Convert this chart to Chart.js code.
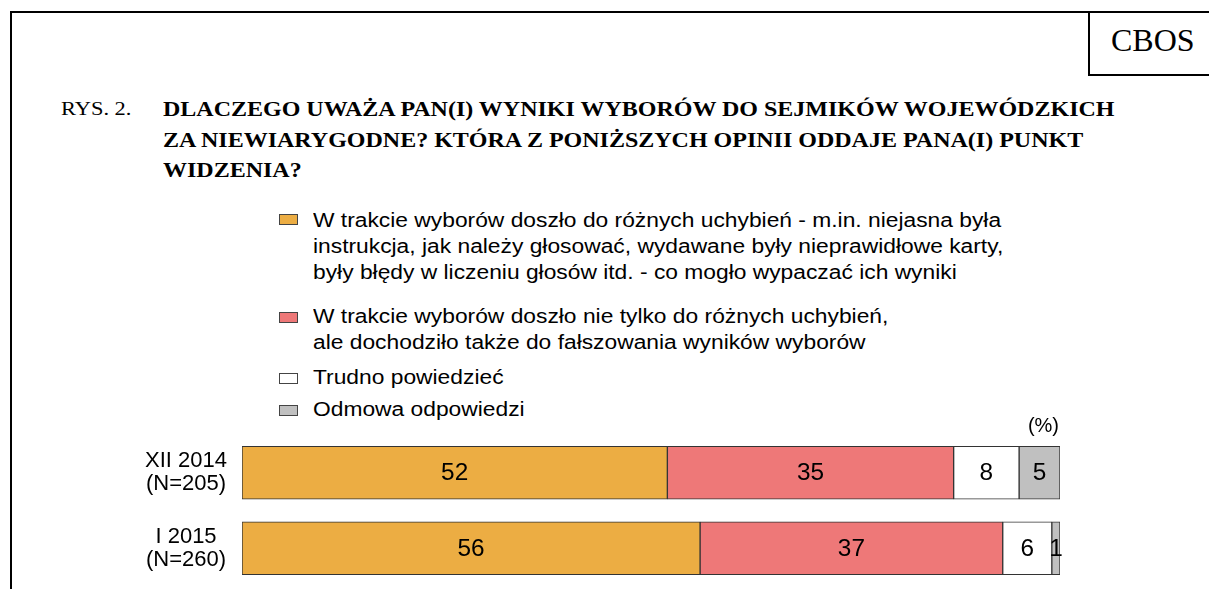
<!DOCTYPE html>
<html>
<head>
<meta charset="utf-8">
<script src="https://cdn.jsdelivr.net/npm/chart.js@4.4.1/dist/chart.umd.min.js"></script>
<style>
  body { margin: 0; background: #fff; width: 1209px; height: 589px; overflow: hidden; position: relative; }
  .frame { position: absolute; left: 10px; top: 11px; width: 1300px; height: 700px; border-left: 2px solid #000; border-top: 2px solid #000; }
  .cbos-box { position: absolute; left: 1088px; top: 11px; width: 200px; height: 63px; border-left: 2px solid #000; border-bottom: 2px solid #000; }
  .txt { position: absolute; white-space: nowrap; color: #000; transform-origin: 0 0; }
  .serif { font-family: "Liberation Serif", "Times New Roman", serif; }
  .sans { font-family: "Liberation Sans", Arial, sans-serif; }
  .sq { position: absolute; width: 17px; height: 9px; border: 1px solid #444; }
  #wrap { position: absolute; left: 0; top: 0; width: 1209px; height: 589px; }
</style>
</head>
<body>
<div class="frame"></div>
<div class="cbos-box"></div>
<div id="texts"></div>
<div id="wrap"><canvas id="chart" width="1209" height="589"></canvas></div>
<script>
// dane
const categories = [['XII 2014', '(N=205)'], ['I 2015', '(N=260)']];
const seriesNames = [
    ['W trakcie wyborów doszło do różnych uchybień - m.in. niejasna była',
     'instrukcja, jak należy głosować, wydawane były nieprawidłowe karty,',
     'były błędy w liczeniu głosów itd. - co mogło wypaczać ich wyniki'],
    ['W trakcie wyborów doszło nie tylko do różnych uchybień,',
     'ale dochodziło także do fałszowania wyników wyborów'],
    ['Trudno powiedzieć'],
    ['Odmowa odpowiedzi']
];
const valuesOrange = [52, 56];
const valuesRed = [35, 37];
const valuesWhite = [8, 6];
const valuesGray = [5, 1];
const colors = ['#ECAD43', '#EE7878', '#FFFFFF', '#C0C0C0'];

const titleLabel = 'RYS. 2.';
const titleLines = [
    'DLACZEGO UWAŻA PAN(I) WYNIKI WYBORÓW DO SEJMIKÓW WOJEWÓDZKICH',
    'ZA NIEWIARYGODNE? KTÓRA Z PONIŻSZYCH OPINII ODDAJE PANA(I) PUNKT',
    'WIDZENIA?'
];

// tekst HTML ustawiany po linii bazowej
const texts = document.getElementById('texts');
function putText(str, x, baseline, size, cls, extra) {
    const lh = size * 1.3;
    const k = cls === 'serif' ? 0.3375 : 0.3465;
    const d = document.createElement('div');
    d.className = 'txt ' + cls;
    d.style.left = x + 'px';
    d.style.top = (baseline - lh / 2 - k * size) + 'px';
    d.style.fontSize = size + 'px';
    d.style.lineHeight = lh + 'px';
    if (extra) Object.assign(d.style, extra);
    d.textContent = str;
    texts.appendChild(d);
}

putText('CBOS', 1111, 52, 32, 'serif');
putText(titleLabel, 61, 116, 19, 'serif', { transform: 'scaleX(1.18)' });
titleLines.forEach((l, i) => putText(l, 163, 116 + i * 30.5, 20, 'serif',
    { fontWeight: 'bold', transform: 'scaleX(1.2)' }));

const legendBase = [226.5, 323, 384, 416];
const legendSq = [219, 317, 378, 410];
seriesNames.forEach((lines, s) => {
    const sq = document.createElement('div');
    sq.className = 'sq';
    sq.style.left = '279px';
    sq.style.top = (legendSq[s] - 5.5) + 'px';
    sq.style.background = colors[s];
    texts.appendChild(sq);
    lines.forEach((l, i) => putText(l, 313, legendBase[s] + i * 26, 20, 'sans',
        { transform: 'scaleX(1.14)' }));
});

// etykiety wartości w środku segmentów
const valueLabels = {
    id: 'valueLabels',
    afterDatasetsDraw(chart) {
        const c = chart.ctx;
        c.save();
        c.font = '23px "Liberation Sans", Arial, sans-serif';
        c.fillStyle = '#000';
        c.textAlign = 'center';
        c.textBaseline = 'middle';
        chart.data.datasets.forEach((ds, i) => {
            chart.getDatasetMeta(i).data.forEach((bar, j) => {
                const p = bar.getProps(['x', 'y', 'base'], true);
                c.save();
                c.translate((p.x + p.base) / 2, p.y + 1);
                c.scale(1.06, 1);
                c.fillText(ds.data[j], 0, 0);
                c.restore();
            });
        });
        // (%)
        c.font = '20px "Liberation Sans", Arial, sans-serif';
        c.textAlign = 'right';
        c.textBaseline = 'alphabetic';
        c.fillText('(%)', chart.chartArea.right - 1, chart.chartArea.top - 3);
        c.restore();
    }
};

const allValues = [valuesOrange, valuesRed, valuesWhite, valuesGray];

new Chart(document.getElementById('chart'), {
    type: 'bar',
    data: {
        labels: categories,
        datasets: allValues.map((v, i) => ({
            label: seriesNames[i].join(' '),
            data: v,
            backgroundColor: colors[i],
            borderColor: '#333',
            borderWidth: 1,
            borderSkipped: false,
            barThickness: 53
        }))
    },
    options: {
        indexAxis: 'y',
        responsive: false,
        animation: false,
        layout: { padding: { top: 435, bottom: 3, left: 0, right: 149 } },
        scales: {
            x: { stacked: true, min: 0, max: 100, display: false },
            y: {
                stacked: true,
                grid: { display: false, drawTicks: false },
                border: { display: false },
                ticks: {
                    color: '#000',
                    crossAlign: 'center',
                    padding: 15,
                    font: { family: '"Liberation Sans", Arial, sans-serif', size: 22, lineHeight: 1.05 }
                },
                afterFit(scale) {
                    scale.width = 242;
                    scale.paddingTop = 0;
                    scale.paddingBottom = 0;
                }
            }
        },
        plugins: {
            legend: { display: false },
            tooltip: { enabled: false }
        }
    },
    plugins: [valueLabels]
});
</script>
</body>
</html>
